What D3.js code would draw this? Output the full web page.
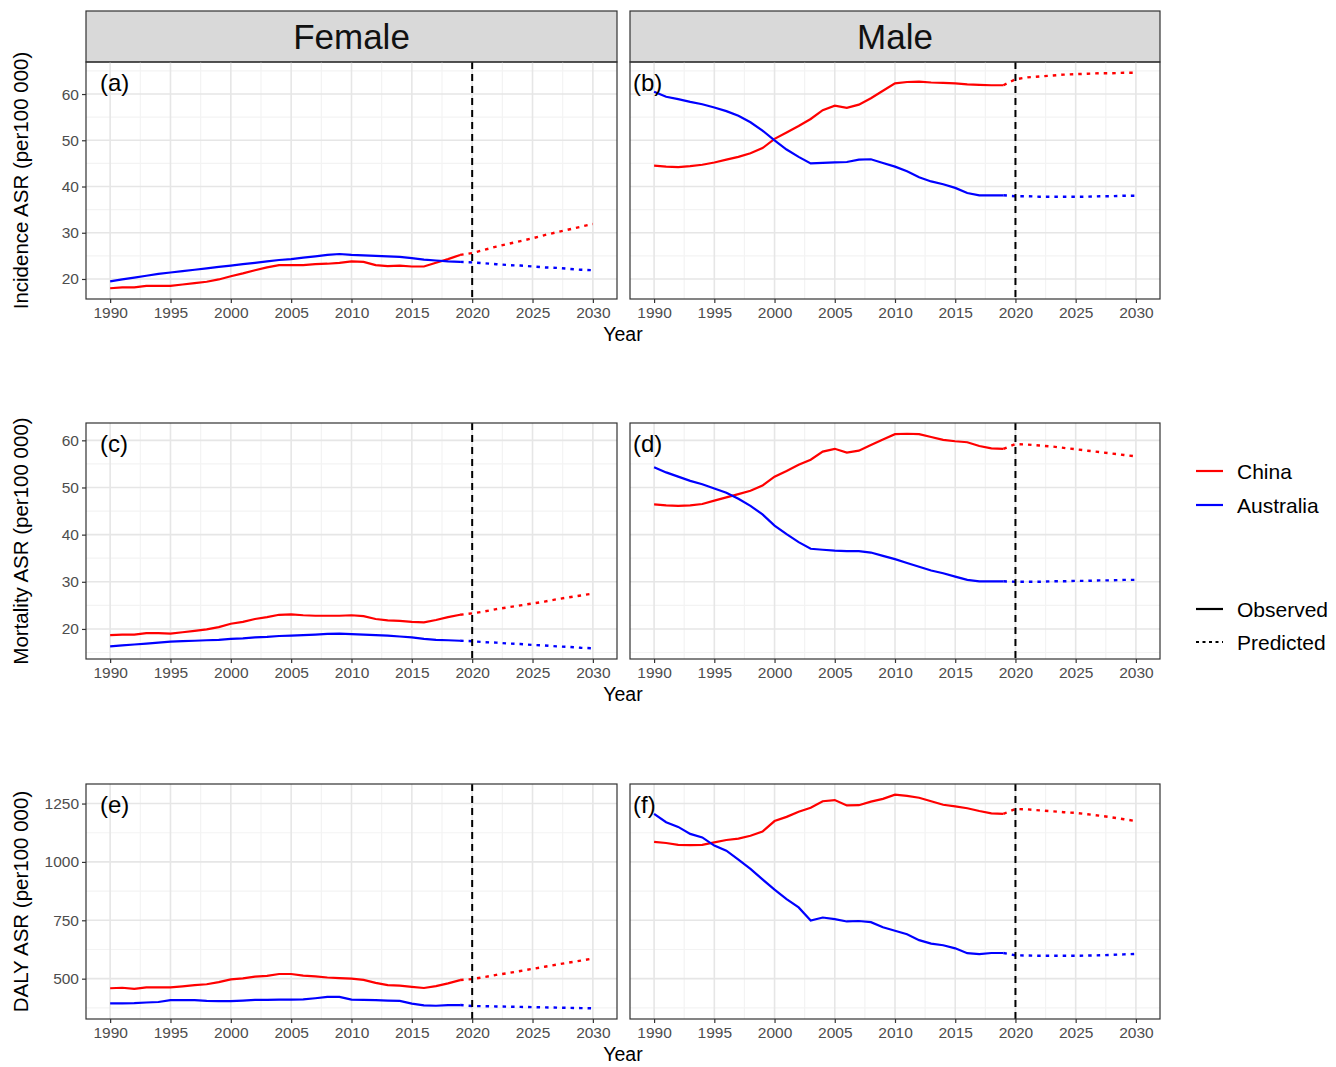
<!DOCTYPE html>
<html><head><meta charset="utf-8">
<script src="https://cdn.jsdelivr.net/npm/d3@7/dist/d3.min.js"></script>
<style>body{margin:0;background:#fff}text{font-family:"Liberation Sans",Arial,sans-serif}</style>
</head><body>
<svg id="chart" width="1336" height="1067"></svg>
<script>
// ---------- data ----------
const obsYears = d3.range(1990, 2020);
const predYears = d3.range(2019, 2031);
const xTicks = [1990, 1995, 2000, 2005, 2010, 2015, 2020, 2025, 2030];
const sexes = ["Female", "Male"];
const countries = ["China", "Australia"];
const measureTitles = ["Incidence ASR (per100 000)", "Mortality ASR (per100 000)", "DALY ASR (per100 000)"];
const yTicksIncidence = [20, 30, 40, 50, 60];
const yTicksMortality = [20, 30, 40, 50, 60];
const yTicksDaly = [500, 750, 1000, 1250];
const panelLabels = [["(a)", "(b)"], ["(c)", "(d)"], ["(e)", "(f)"]];

// Incidence
const incFemaleChinaObs = [18.0,18.2,18.2,18.5,18.5,18.5,18.8,19.1,19.4,19.9,20.6,21.2,21.9,22.5,23.0,23.0,23.0,23.2,23.3,23.5,23.8,23.7,23.0,22.8,22.9,22.7,22.7,23.5,24.3,25.2];
const incFemaleAusObs   = [19.5,19.9,20.3,20.7,21.1,21.4,21.7,22.0,22.3,22.6,22.9,23.2,23.5,23.8,24.1,24.3,24.6,24.9,25.2,25.4,25.2,25.1,25.0,24.9,24.8,24.5,24.2,24.0,23.8,23.7];
const incMaleChinaObs   = [44.5,44.3,44.2,44.4,44.7,45.2,45.8,46.4,47.2,48.3,50.3,51.7,53.1,54.6,56.5,57.5,57.0,57.7,59.1,60.7,62.3,62.6,62.7,62.5,62.4,62.3,62.1,62.0,61.9,61.9];
const incMaleAusObs     = [60.5,59.4,58.9,58.3,57.8,57.1,56.3,55.3,53.9,52.1,50.0,48.0,46.4,45.0,45.1,45.2,45.3,45.8,45.9,45.1,44.3,43.3,42.0,41.1,40.5,39.7,38.6,38.1,38.1,38.1];
const incFemaleChinaPred = [25.2,25.6,26.3,27.0,27.6,28.2,28.8,29.5,30.1,30.7,31.3,31.9];
const incFemaleAusPred   = [23.7,23.6,23.4,23.2,23.0,22.9,22.7,22.5,22.4,22.2,22.0,21.9];
const incMaleChinaPred   = [61.9,63.2,63.6,63.8,64.0,64.2,64.3,64.4,64.5,64.5,64.6,64.6];
const incMaleAusPred     = [38.1,37.9,37.9,37.8,37.8,37.8,37.8,37.8,37.9,37.9,38.0,38.0];

// Mortality
const morFemaleChinaObs = [18.7,18.8,18.8,19.1,19.1,19.0,19.3,19.6,19.9,20.4,21.1,21.5,22.1,22.5,23.0,23.1,22.9,22.8,22.8,22.8,22.9,22.7,22.1,21.8,21.7,21.5,21.4,21.9,22.5,23.0];
const morFemaleAusObs   = [16.3,16.5,16.7,16.9,17.1,17.3,17.4,17.5,17.6,17.7,17.9,18.0,18.2,18.3,18.5,18.6,18.7,18.8,18.95,19.0,18.9,18.8,18.7,18.6,18.4,18.2,17.9,17.7,17.6,17.5];
const morMaleChinaObs   = [46.4,46.2,46.1,46.2,46.5,47.2,47.9,48.6,49.3,50.4,52.3,53.5,54.8,55.9,57.6,58.2,57.4,57.8,59.0,60.2,61.3,61.4,61.3,60.7,60.1,59.8,59.6,58.8,58.3,58.2];
const morMaleAusObs     = [54.3,53.2,52.3,51.4,50.7,49.8,48.9,47.6,46.1,44.3,41.9,40.1,38.4,37.0,36.8,36.6,36.5,36.5,36.2,35.5,34.8,34.0,33.2,32.4,31.8,31.1,30.4,30.1,30.1,30.1];
const morFemaleChinaPred = [23.0,23.3,23.7,24.2,24.6,25.0,25.4,25.8,26.3,26.7,27.1,27.5];
const morFemaleAusPred   = [17.5,17.4,17.2,17.1,16.9,16.8,16.6,16.5,16.3,16.2,16.0,15.9];
const morMaleChinaPred   = [58.2,59.2,59.1,58.9,58.7,58.4,58.1,57.8,57.5,57.2,56.9,56.6];
const morMaleAusPred     = [30.1,30.0,30.0,30.0,30.1,30.1,30.2,30.2,30.3,30.3,30.4,30.4];

// DALY
const dalyFemaleChinaObs = [459,461,456,463,463,463,467,472,476,485,497,501,509,512,520,520,513,510,505,502,500,495,482,472,470,465,460,468,480,494];
const dalyFemaleAusObs   = [394,394,395,398,400,408,408,408,405,404,404,406,409,409,410,410,411,416,422,422,410,409,408,406,405,393,386,384,387,387];
const dalyMaleChinaObs   = [1086,1081,1073,1072,1073,1084,1094,1100,1112,1130,1175,1193,1215,1232,1260,1265,1242,1243,1258,1270,1288,1283,1275,1260,1245,1238,1230,1218,1208,1206];
const dalyMaleAusObs     = [1206,1170,1150,1120,1105,1070,1048,1010,970,925,881,841,805,749,762,755,745,747,742,720,705,690,665,650,643,630,609,605,610,610];
const dalyFemaleChinaPred = [494,498,507,516,524,533,542,551,560,569,577,586];
const dalyFemaleAusPred   = [387,383,382,381,380,379,378,377,376,375,374,373];
const dalyMaleChinaPred   = [1206,1227,1225,1221,1217,1213,1210,1204,1198,1191,1183,1175];
const dalyMaleAusPred     = [610,600,599,598,598,598,598,599,600,602,604,606];

const colors = {China: "#FF0000", Australia: "#0000FF"};

const rowsData = [
  {title: measureTitles[0], ticks: yTicksIncidence, panels: [
    {China: [incFemaleChinaObs, incFemaleChinaPred], Australia: [incFemaleAusObs, incFemaleAusPred]},
    {China: [incMaleChinaObs, incMaleChinaPred], Australia: [incMaleAusObs, incMaleAusPred]}]},
  {title: measureTitles[1], ticks: yTicksMortality, panels: [
    {China: [morFemaleChinaObs, morFemaleChinaPred], Australia: [morFemaleAusObs, morFemaleAusPred]},
    {China: [morMaleChinaObs, morMaleChinaPred], Australia: [morMaleAusObs, morMaleAusPred]}]},
  {title: measureTitles[2], ticks: yTicksDaly, panels: [
    {China: [dalyFemaleChinaObs, dalyFemaleChinaPred], Australia: [dalyFemaleAusObs, dalyFemaleAusPred]},
    {China: [dalyMaleChinaObs, dalyMaleChinaPred], Australia: [dalyMaleAusObs, dalyMaleAusPred]}]}
];

// ---------- layout ----------
const cols = [{x0: 86, x1: 617}, {x0: 630, x1: 1160}];
const rows = [{y0: 62, y1: 299}, {y0: 423, y1: 659}, {y0: 784, y1: 1019}];
const strip = {y0: 11, y1: 62};
const labelDx = [14, 3];
const FONT = '"Liberation Sans",Arial,sans-serif';

const svg = d3.select("#chart");

cols.forEach((c, i) => {
  svg.append("rect").attr("x", c.x0).attr("y", strip.y0).attr("width", c.x1 - c.x0).attr("height", strip.y1 - strip.y0)
    .attr("fill", "#D9D9D9").attr("stroke", "#333").attr("stroke-width", 1.2);
  svg.append("text").attr("x", (c.x0 + c.x1) / 2).attr("y", (strip.y0 + strip.y1) / 2 + 12)
    .attr("text-anchor", "middle").attr("font-size", 35).attr("fill", "#111").text(sexes[i]);
});

rowsData.forEach((rd, ri) => {
  const r = rows[ri];
  const all = [];
  rd.panels.forEach(p => countries.forEach(k => { all.push(...p[k][0], ...p[k][1]); }));
  const [mn, mx] = d3.extent(all);
  const pad = (mx - mn) * 0.05;
  const y = d3.scaleLinear().domain([mn - pad, mx + pad]).range([r.y1, r.y0]);
  const step = rd.ticks[1] - rd.ticks[0];
  const minorY = [];
  for (let v = rd.ticks[0] - step / 2; v <= y.domain()[1]; v += step) if (v >= y.domain()[0]) minorY.push(v);

  cols.forEach((c, ci) => {
    const x = d3.scaleLinear().domain([1988, 2032]).range([c.x0, c.x1]);
    const g = svg.append("g");
    const clipId = `clip${ri}${ci}`;
    g.append("clipPath").attr("id", clipId).append("rect")
      .attr("x", c.x0).attr("y", r.y0).attr("width", c.x1 - c.x0).attr("height", r.y1 - r.y0);
    const plot = g.append("g").attr("clip-path", `url(#${clipId})`);
    const minorX = xTicks.slice(0, -1).map(t => t + 2.5);
    plot.selectAll(".mx").data(minorX).join("line").attr("x1", d => x(d)).attr("x2", d => x(d))
      .attr("y1", r.y0).attr("y2", r.y1).attr("stroke", "#F3F3F3").attr("stroke-width", 1.2);
    plot.selectAll(".my").data(minorY).join("line").attr("y1", d => y(d)).attr("y2", d => y(d))
      .attr("x1", c.x0).attr("x2", c.x1).attr("stroke", "#F3F3F3").attr("stroke-width", 1.2);
    plot.selectAll(".Mx").data(xTicks).join("line").attr("x1", d => x(d)).attr("x2", d => x(d))
      .attr("y1", r.y0).attr("y2", r.y1).attr("stroke", "#E6E6E6").attr("stroke-width", 1.6);
    plot.selectAll(".My").data(rd.ticks).join("line").attr("y1", d => y(d)).attr("y2", d => y(d))
      .attr("x1", c.x0).attr("x2", c.x1).attr("stroke", "#E6E6E6").attr("stroke-width", 1.6);

    const line = d3.line().x(d => x(d[0])).y(d => y(d[1]));
    const p = rd.panels[ci];
    countries.forEach(k => {
      const obs = obsYears.map((yr, i) => [yr, p[k][0][i]]);
      const pred = predYears.map((yr, i) => [yr, p[k][1][i]]);
      plot.append("path").attr("d", line(obs)).attr("fill", "none").attr("stroke", colors[k]).attr("stroke-width", 2.2);
      plot.append("path").attr("d", line(pred)).attr("fill", "none").attr("stroke", colors[k]).attr("stroke-width", 2.4)
        .attr("stroke-dasharray", "3.5,5");
    });
    plot.append("line").attr("x1", x(2020)).attr("x2", x(2020)).attr("y1", r.y0).attr("y2", r.y1)
      .attr("stroke", "#000").attr("stroke-width", 2).attr("stroke-dasharray", "7,5");

    g.append("rect").attr("x", c.x0).attr("y", r.y0).attr("width", c.x1 - c.x0).attr("height", r.y1 - r.y0)
      .attr("fill", "none").attr("stroke", "#333").attr("stroke-width", 1.2);

    const xa = g.append("g").attr("transform", `translate(0,${r.y1})`)
      .call(d3.axisBottom(x).tickValues(xTicks).tickFormat(d3.format("d")).tickSize(4).tickPadding(4));
    xa.select(".domain").remove();
    xa.selectAll(".tick line").attr("stroke", "#333").attr("stroke-width", 1.2);
    xa.selectAll("text").attr("font-size", 15.5).attr("fill", "#4D4D4D").style("font-family", FONT);

    if (ci === 0) {
      const ya = g.append("g").attr("transform", `translate(${c.x0},0)`)
        .call(d3.axisLeft(y).tickValues(rd.ticks).tickFormat(d3.format("d")).tickSize(4).tickPadding(3));
      ya.select(".domain").remove();
      ya.selectAll(".tick line").attr("stroke", "#333").attr("stroke-width", 1.2);
      ya.selectAll("text").attr("font-size", 15.5).attr("fill", "#4D4D4D").style("font-family", FONT);
    }
    g.append("text").attr("x", c.x0 + labelDx[ci]).attr("y", r.y0 + 29).attr("font-size", 24).attr("fill", "#000")
      .text(panelLabels[ri][ci]);
  });

  svg.append("text").attr("transform", `translate(28,${(r.y0 + r.y1) / 2}) rotate(-90)`)
    .attr("text-anchor", "middle").attr("font-size", 20.5).attr("fill", "#000").text(rd.title);
  svg.append("text").attr("x", (cols[0].x0 + cols[1].x1) / 2).attr("y", r.y1 + 42)
    .attr("text-anchor", "middle").attr("font-size", 19.5).attr("fill", "#000").text("Year");
});

// ---------- legend ----------
const legendColor = [{label: "China", color: colors.China, y: 471}, {label: "Australia", color: colors.Australia, y: 505}];
const legendType = [{label: "Observed", dash: null, y: 609}, {label: "Predicted", dash: "3,3.5", y: 642}];
const lg = svg.append("g");
legendColor.forEach(d => {
  lg.append("line").attr("x1", 1196).attr("x2", 1223).attr("y1", d.y).attr("y2", d.y).attr("stroke", d.color).attr("stroke-width", 2.2);
  lg.append("text").attr("x", 1237).attr("y", d.y + 7.5).attr("font-size", 21).attr("fill", "#000").text(d.label);
});
legendType.forEach(d => {
  const l = lg.append("line").attr("x1", 1196).attr("x2", 1223).attr("y1", d.y).attr("y2", d.y).attr("stroke", "#000").attr("stroke-width", 2.2);
  if (d.dash) l.attr("stroke-dasharray", d.dash);
  lg.append("text").attr("x", 1237).attr("y", d.y + 7.5).attr("font-size", 21).attr("fill", "#000").text(d.label);
});
</script>
</body></html>
